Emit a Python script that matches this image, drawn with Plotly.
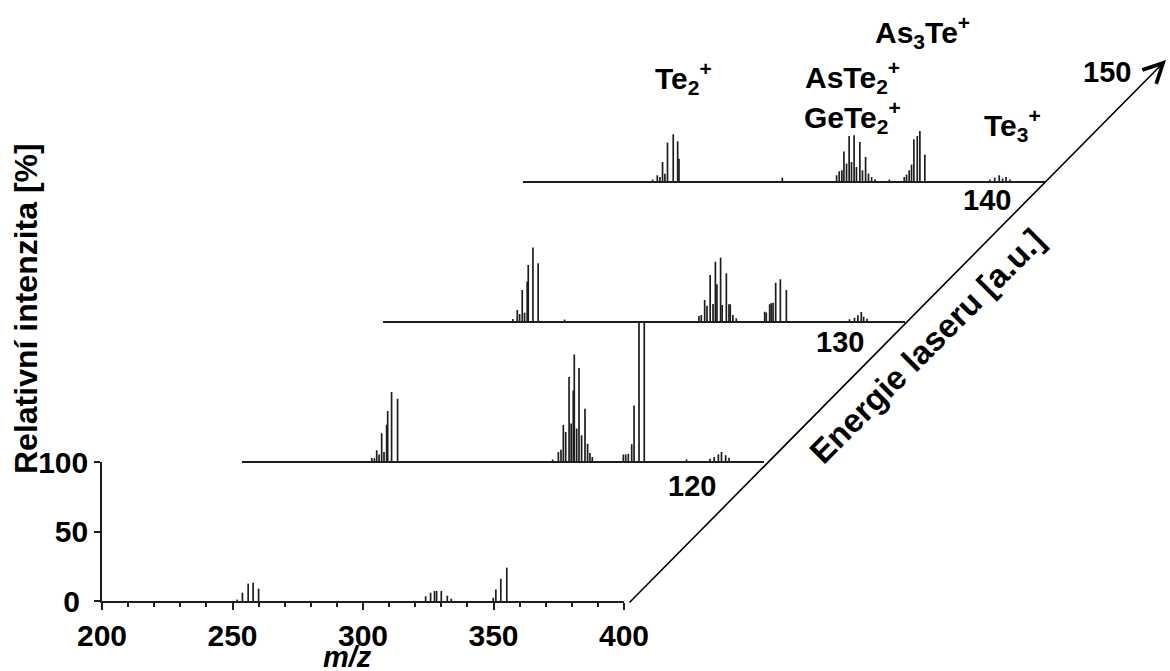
import plotly.graph_objects as go

# ---------------- data (m/z, relative intensity %) ----------------
# bottom spectrum (with axes)
mz_s0 = [251.8, 253.8, 256.0, 257.9, 260.0,
         324.0, 325.9, 327.4, 328.2, 330.0, 332.3, 333.8,
         349.9, 350.9, 352.8, 355.1]
int_s0 = [1.0, 6.0, 12.5, 13.2, 8.9,
          3.4, 6.0, 7.2, 7.2, 7.2, 3.8, 1.7,
          2.4, 8.2, 16.0, 24.0]

# energy 120
mz_s1 = [249.6, 250.6, 251.5, 252.4, 253.4, 254.3, 255.3, 255.7, 257.2, 259.5,
         318.9, 321.1, 322.1, 323.0, 323.9, 325.2, 326.0, 326.8, 327.2, 328.1,
         329.0, 330.0, 331.3, 332.3, 333.2, 334.1,
         346.0, 346.9, 347.9, 349.2, 350.1, 352.0, 354.0,
         370.2, 379.2, 380.8, 382.4, 383.6, 385.2, 386.5]
int_s1 = [2.2, 2.0, 7.7, 4.6, 20.0, 6.5, 26.0, 36.0, 49.6, 44.8,
          1.0, 6.5, 8.1, 26.0, 20.9, 60.4, 26.9, 50.8, 76.7, 23.3,
          66.9, 18.5, 37.6, 12.5, 5.8, 2.9,
          4.6, 4.6, 5.3, 12.0, 40.0, 100.0, 100.0,
          1.0, 1.7, 2.9, 4.8, 6.5, 4.1, 2.4]

# energy 130
mz_s2 = [249.9, 251.6, 252.5, 253.5, 254.4, 255.4, 255.8, 257.6, 259.6, 269.7,
         321.2, 322.1, 323.4, 324.3, 325.5, 326.6, 327.5, 328.1, 329.5, 330.1,
         331.7, 332.7, 333.2, 334.2, 335.5,
         346.4, 347.0, 348.3, 348.9, 349.6, 350.6, 352.4, 354.7,
         378.9, 380.8, 382.1, 383.4, 384.3, 385.6]
int_s2 = [1.4, 7.9, 5.0, 22.3, 6.0, 28.3, 40.3, 52.8, 41.5, 1.0,
          3.6, 4.3, 15.1, 11.0, 33.1, 12.2, 42.7, 26.4, 45.6, 11.5,
          34.3, 12.0, 12.0, 4.3, 1.9,
          6.7, 6.2, 12.0, 12.7, 13.2, 27.6, 30.0, 22.3,
          1.2, 2.4, 4.1, 6.5, 3.1, 1.7]

# energy 140
mz_s3 = [249.7, 251.5, 252.5, 253.5, 254.4, 255.4, 257.6, 259.3, 259.8,
         299.4,
         320.2, 321.2, 322.2, 323.0, 324.0, 325.0, 325.9, 326.9, 327.8, 329.1,
         330.1, 331.3, 332.4, 333.6, 334.9,
         340.4, 346.1, 347.0, 348.0, 348.9, 349.8, 351.1, 352.1, 354.0,
         378.9, 380.8, 382.5, 383.8, 385.1, 386.6]
int_s3 = [1.0, 4.1, 2.9, 13.7, 5.3, 27.6, 33.6, 28.5, 16.0,
          2.4,
          4.1, 7.0, 7.7, 21.3, 12.5, 32.4, 13.7, 32.9, 10.1, 28.1,
          7.7, 17.3, 5.3, 2.9, 1.2,
          1.0, 2.9, 4.6, 7.7, 11.8, 30.0, 32.4, 36.0, 19.0,
          1.0, 2.4, 4.1, 1.7, 2.9, 1.0]

spectra = [(mz_s0, int_s0), (mz_s1, int_s1), (mz_s2, int_s2), (mz_s3, int_s3)]

energy_labels = ["120", "130", "140", "150"]
x_ticks = [200, 250, 300, 350, 400]
y_ticks = [0, 50, 100]
y_tick_text = ["0\u00a0", "50", "100"]

ion_labels = ["Te<sub>2</sub><sup>+</sup>", "As<sub>3</sub>Te<sup>+</sup>",
              "AsTe<sub>2</sub><sup>+</sup>", "GeTe<sub>2</sub><sup>+</sup>",
              "Te<sub>3</sub><sup>+</sup>"]

# ---------------- layout geometry (pixels) ----------------
W, H = 1170, 671
X0, Y0 = 102, 601       # origin of bottom spectrum
AX_W, AX_H = 522, 139   # axis box size
DX, DY = 140.3, 140     # offset per step
FONT = "Liberation Sans, Arial, sans-serif"
LINE = "#1e1e1e"


def px(x):
    return x / W


def py(y):
    return 1 - y / H


fig = go.Figure()
layout = {}
for k, (mz, inten) in enumerate(spectra):
    xs, ys = [], []
    for m, v in zip(mz, inten):
        xs += [m, m, None]
        ys += [0, v, None]
    sx = "" if k == 0 else str(k + 1)
    fig.add_trace(go.Scatter(x=xs, y=ys, mode="lines",
                             line=dict(color=LINE, width=1.7),
                             xaxis="x" + sx, yaxis="y" + sx,
                             showlegend=False, hoverinfo="skip", cliponaxis=False))
    x0 = X0 + DX * k
    yb = Y0 - DY * k
    xd = [px(x0), px(x0 + AX_W)]
    yd = [py(yb), py(yb - AX_H)]
    xa = dict(domain=xd, range=[200, 400], anchor="y" + sx, showgrid=False,
              zeroline=False, showline=True, linecolor=LINE, linewidth=1.6,
              automargin=False)
    ya = dict(domain=yd, range=[0, 100], anchor="x" + sx, showgrid=False,
              zeroline=False, automargin=False)
    if k == 0:
        xa.update(ticks="outside", ticklen=7, tickwidth=1.5, tickcolor=LINE,
                  tickvals=x_ticks, ticktext=[str(t) for t in x_ticks],
                  tickfont=dict(family=FONT, size=30, color="black", weight="bold"),
                  minor=dict(dtick=10, ticks="outside", ticklen=4, tickwidth=1.5,
                             tickcolor=LINE, showgrid=False))
        ya.update(showline=True, linecolor=LINE, linewidth=1.6,
                  ticks="outside", ticklen=6, tickwidth=1.5, tickcolor=LINE,
                  tickvals=y_ticks, ticktext=y_tick_text,
                  tickfont=dict(family=FONT, size=30, color="black", weight="bold"))
    else:
        xa.update(showticklabels=False, ticks="")
        ya.update(visible=False)
    layout["xaxis" + sx] = xa
    layout["yaxis" + sx] = ya

ann = []
bold = dict(family=FONT, size=29, color="black", weight="bold")
# energy axis arrow
ann.append(dict(x=px(1166), y=py(60), xref="paper", yref="paper",
                ax=628 - 1166, ay=604 - 60, axref="pixel", ayref="pixel",
                showarrow=True, arrowhead=5, arrowsize=2.4, arrowwidth=1.6,
                arrowcolor="black", text=""))
# energy tick labels
for lab, (ex, ey) in zip(energy_labels, [(692, 486), (840, 342), (987, 200), (1107, 72)]):
    ann.append(dict(x=px(ex), y=py(ey), xref="paper", yref="paper", text=lab,
                    showarrow=False, font=bold, xanchor="center", yanchor="middle"))
# ion labels
for lab, (ex, ey) in zip(ion_labels, [(683, 78), (922, 32), (852, 77), (852, 117), (1012, 125)]):
    ann.append(dict(x=px(ex), y=py(ey), xref="paper", yref="paper", text=lab,
                    showarrow=False, font=dict(family=FONT, size=30, color="black", weight="bold"),
                    xanchor="center", yanchor="middle"))
# axis titles
ann.append(dict(x=px(347), y=py(657), xref="paper", yref="paper", text="<i>m/z</i>",
                showarrow=False, font=bold, xanchor="center", yanchor="middle"))
ann.append(dict(x=px(26), y=py(309), xref="paper", yref="paper",
                text="Relativní intenzita [%]", textangle=-90,
                showarrow=False, font=dict(family=FONT, size=32, color="black", weight="bold"),
                xanchor="center", yanchor="middle"))
ann.append(dict(x=px(926), y=py(346), xref="paper", yref="paper",
                text="Energie laseru [a.u.]", textangle=-45,
                showarrow=False, font=dict(family=FONT, size=33, color="black", weight="bold"),
                xanchor="center", yanchor="middle"))

fig.update_layout(width=W, height=H, margin=dict(l=0, r=0, t=0, b=0, autoexpand=False),
                  paper_bgcolor="white", plot_bgcolor="white",
                  annotations=ann, **layout)
fig.write_html("out.html")
